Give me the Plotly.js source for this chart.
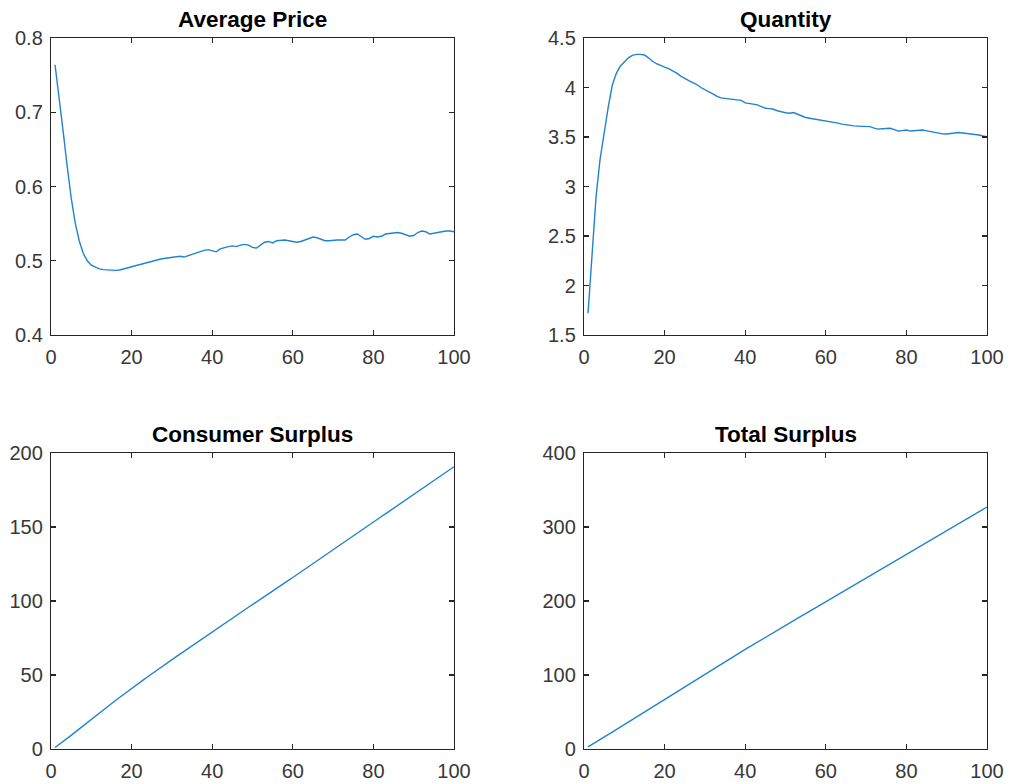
<!DOCTYPE html>
<html>
<head>
<meta charset="utf-8">
<script src="https://cdn.plot.ly/plotly-3.0.1.min.js"></script>
<style>html,body{margin:0;padding:0;background:#fff;}#chart{width:1010px;height:784px;}</style>
</head>
<body>
<div id="chart"></div>
<script>
// x values: periods 1..100
const periods = [1,2,3,4,5,6,7,8,9,10,11,12,13,14,15,16,17,18,19,20,21,22,23,24,25,26,27,28,29,30,31,32,33,34,35,36,37,38,39,40,41,42,43,44,45,46,47,48,49,50,51,52,53,54,55,56,57,58,59,60,61,62,63,64,65,66,67,68,69,70,71,72,73,74,75,76,77,78,79,80,81,82,83,84,85,86,87,88,89,90,91,92,93,94,95,96,97,98,99,100];

const avgPrice = [0.764,0.722,0.675,0.628,0.585,0.551,0.527,0.510,0.500,0.494,
  0.491,0.489,0.488,0.4875,0.487,0.487,0.4875,0.489,0.490,0.492,
  0.494,0.495,0.497,0.498,0.500,0.501,0.502,0.503,0.504,0.504,
  0.505,0.506,0.505,0.507,0.509,0.511,0.512,0.514,0.515,0.514,
  0.512,0.516,0.518,0.519,0.520,0.519,0.521,0.522,0.521,0.518,
  0.517,0.521,0.525,0.526,0.524,0.527,0.528,0.528,0.527,0.526,
  0.525,0.526,0.528,0.530,0.532,0.531,0.529,0.527,0.527,0.528,
  0.528,0.528,0.528,0.532,0.535,0.536,0.532,0.529,0.530,0.533,
  0.532,0.533,0.536,0.537,0.537,0.538,0.537,0.535,0.533,0.534,
  0.538,0.540,0.539,0.536,0.537,0.539,0.540,0.540,0.540,0.539];

const quantity = [1.72,2.30,2.90,3.28,3.55,3.80,4.02,4.14,4.215,4.26,
  4.30,4.325,4.335,4.335,4.328,4.30,4.265,4.24,4.22,4.205,
  4.19,4.17,4.145,4.115,4.09,4.07,4.05,4.03,4.00,3.975,
  3.955,3.935,3.91,3.895,3.89,3.885,3.885,3.88,3.87,3.845,
  3.835,3.832,3.825,3.805,3.79,3.787,3.78,3.765,3.752,3.745,
  3.74,3.747,3.73,3.71,3.697,3.69,3.683,3.675,3.668,3.665,
  3.66,3.65,3.64,3.63,3.622,3.615,3.612,3.61,3.61,3.611,
  3.605,3.59,3.58,3.584,3.588,3.588,3.575,3.56,3.565,3.57,
  3.56,3.562,3.568,3.57,3.562,3.553,3.545,3.54,3.532,3.53,
  3.532,3.54,3.545,3.54,3.538,3.535,3.528,3.52,3.51,3.503];

const consumerSurplus = [1.0,2.9,4.9,7.0,9.2,11.4,13.6,15.8,17.9,20.1,
  22.2,24.4,26.5,28.6,30.7,32.8,34.8,36.9,38.9,40.9,
  42.9,44.9,46.9,48.8,50.8,52.7,54.6,56.5,58.4,60.3,
  62.2,64.1,66.0,67.9,69.8,71.6,73.5,75.4,77.2,79.1,
  81.0,82.8,84.7,86.5,88.4,90.2,92.1,93.9,95.8,97.6,
  99.5,101.3,103.1,105.0,106.8,108.6,110.5,112.3,114.1,115.9,
  117.8,119.7,121.5,123.4,125.3,127.1,129.0,130.9,132.8,134.6,
  136.5,138.4,140.2,142.1,144.0,145.8,147.7,149.6,151.4,153.3,
  155.2,157.1,158.9,160.8,162.7,164.5,166.4,168.3,170.1,172.0,
  173.9,175.7,177.6,179.5,181.4,183.2,185.1,187.0,188.8,190.7];

const totalSurplus = [3.0,6.1,9.3,12.6,15.9,19.3,22.7,26.1,29.5,33.0,
  36.5,40.0,43.5,47.0,50.5,54.0,57.5,60.9,64.3,67.7,
  71.1,74.5,77.9,81.3,84.7,88.1,91.5,94.9,98.3,101.6,
  104.9,108.2,111.5,114.8,118.1,121.4,124.7,128.0,131.3,134.6,
  137.9,141.2,144.5,147.8,151.0,154.2,157.4,160.6,163.8,167.0,
  170.2,173.4,176.6,179.8,183.0,186.2,189.4,192.6,195.8,199.0,
  202.2,205.4,208.6,211.8,215.0,218.2,221.4,224.6,227.8,231.0,
  234.2,237.4,240.6,243.8,247.0,250.2,253.4,256.6,259.8,263.0,
  266.2,269.4,272.6,275.8,279.0,282.2,285.4,288.6,291.8,295.0,
  298.2,301.4,304.6,307.8,311.0,314.2,317.4,320.6,323.8,327.0];

const titles = ["Average Price", "Quantity", "Consumer Surplus", "Total Surplus"];
const xTicks = [0,20,40,60,80,100];
const yTicksPrice = [0.4,0.5,0.6,0.7,0.8];
const yTickTextPrice = ["0.4","0.5","0.6","0.7","0.8"];
const yTicksQty = [1.5,2,2.5,3,3.5,4,4.5];
const yTickTextQty = ["1.5","2","2.5","3","3.5","4","4.5"];
const yTicksCS = [0,50,100,150,200];
const yTicksTS = [0,100,200,300,400];

const W = 1010, H = 784;
const lineColor = "#2183cf";
const axisColor = "#262626";
const tickFont = {family: "Liberation Sans, Arial, sans-serif", size: 20, color: "#383838"};

function px2x(a, b) { return [a / W, b / W]; }
function px2y(top, bottom) { return [1 - bottom / H, 1 - top / H]; }

function xaxisDef(dom, anchor) {
  return {
    domain: dom, anchor: anchor, range: [0, 100],
    tickmode: "array", tickvals: xTicks, ticktext: xTicks.map(String),
    showline: true, linecolor: axisColor, linewidth: 1.2, mirror: "ticks",
    ticks: "inside", ticklen: 5, tickwidth: 1.2, tickcolor: axisColor,
    ticklabelstandoff: 4,
    showgrid: false, zeroline: false, tickfont: tickFont, fixedrange: true
  };
}
function yaxisDef(dom, anchor, range, vals, text) {
  return {
    domain: dom, anchor: anchor, range: range,
    tickmode: "array", tickvals: vals, ticktext: text,
    showline: true, linecolor: axisColor, linewidth: 1.2, mirror: "ticks",
    ticks: "inside", ticklen: 5, tickwidth: 1.2, tickcolor: axisColor,
    ticklabelstandoff: 3,
    showgrid: false, zeroline: false, tickfont: tickFont, fixedrange: true
  };
}

const traces = [
  {x: periods, y: avgPrice, xaxis: "x", yaxis: "y"},
  {x: periods, y: quantity, xaxis: "x2", yaxis: "y2"},
  {x: periods, y: consumerSurplus, xaxis: "x3", yaxis: "y3"},
  {x: periods, y: totalSurplus, xaxis: "x4", yaxis: "y4"}
].map(t => Object.assign(t, {type: "scatter", mode: "lines", line: {color: lineColor, width: 1.4}, hoverinfo: "none"}));

const leftX = px2x(51, 454), rightX = px2x(584, 987);
const topY = px2y(38, 335), botY = px2y(453, 749);

const layout = {
  width: W, height: H,
  margin: {l: 0, r: 0, t: 0, b: 0},
  paper_bgcolor: "#ffffff", plot_bgcolor: "#ffffff",
  showlegend: false,
  font: {family: "Liberation Sans, Arial, sans-serif"},
  xaxis: xaxisDef(leftX, "y"),
  yaxis: yaxisDef(topY, "x", [0.4, 0.8], yTicksPrice, yTickTextPrice),
  xaxis2: xaxisDef(rightX, "y2"),
  yaxis2: yaxisDef(topY, "x2", [1.5, 4.5], yTicksQty, yTickTextQty),
  xaxis3: xaxisDef(leftX, "y3"),
  yaxis3: yaxisDef(botY, "x3", [0, 200], yTicksCS, yTicksCS.map(String)),
  xaxis4: xaxisDef(rightX, "y4"),
  yaxis4: yaxisDef(botY, "x4", [0, 400], yTicksTS, yTicksTS.map(String)),
  annotations: [
    {text: "<b>" + titles[0] + "</b>", x: (leftX[0] + leftX[1]) / 2, y: 1 - 20 / H},
    {text: "<b>" + titles[1] + "</b>", x: (rightX[0] + rightX[1]) / 2, y: 1 - 20 / H},
    {text: "<b>" + titles[2] + "</b>", x: (leftX[0] + leftX[1]) / 2, y: 1 - 434 / H},
    {text: "<b>" + titles[3] + "</b>", x: (rightX[0] + rightX[1]) / 2, y: 1 - 434 / H}
  ].map(a => Object.assign(a, {xref: "paper", yref: "paper", xanchor: "center", yanchor: "middle", showarrow: false,
      font: {family: "Liberation Sans, Arial, sans-serif", size: 22.5, color: "#000000"}}))
};

Plotly.newPlot("chart", traces, layout, {staticPlot: true, displayModeBar: false});
</script>
</body>
</html>
